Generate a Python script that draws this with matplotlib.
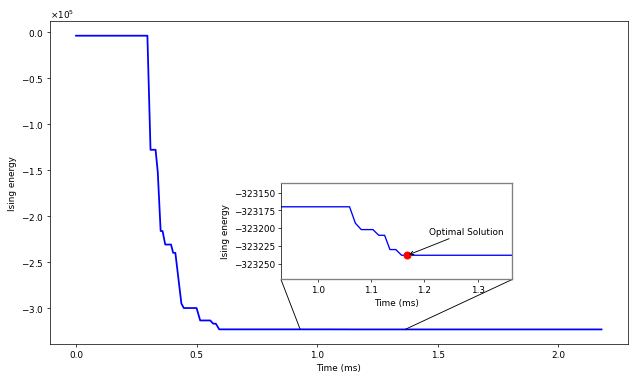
"""Ising energy vs time with a zoomed inset around the optimum."""

import matplotlib
import matplotlib.pyplot as plt
from mpl_toolkits.axes_grid1.inset_locator import mark_inset

matplotlib.use("Agg")

# energy trace (time in ms, energy in Ising units)
time_ms = [0.0, 0.296, 0.309, 0.33, 0.339, 0.351, 0.359, 0.37, 0.394, 0.403,
           0.412, 0.437, 0.447, 0.50, 0.515, 0.557, 0.569, 0.58, 0.594,
           1.059, 1.07, 1.081, 1.103, 1.114, 1.125, 1.135, 1.146, 1.157, 2.18]
energy = [-4000, -4000, -128000, -128000, -152000, -216300, -216300, -231000,
          -231000, -240000, -240000, -295000, -300000, -300000, -313500,
          -313500, -317000, -317000, -323170,
          -323170, -323193, -323202, -323202, -323210, -323210, -323230,
          -323230, -323238, -323238]

opt_time = 1.168
opt_energy = -323238

inset_xlim = (0.93, 1.365)
inset_ylim = (-323272, -323136)
inset_yticks = [-323150, -323175, -323200, -323225, -323250]

fig, ax = plt.subplots(figsize=(10, 6), dpi=63.8)
fig.subplots_adjust(left=0.078, right=0.984, bottom=0.099, top=0.943)

ax.plot(time_ms, energy, color="blue", linewidth=2)
ax.set_xlabel("Time (ms)")
ax.set_ylabel("Ising energy")
ax.ticklabel_format(axis="y", style="sci", scilimits=(0, 0), useMathText=True)

axins = ax.inset_axes([0.4, 0.2, 0.4, 0.3])
axins.plot(time_ms, energy, color="blue", linewidth=1.5)
axins.plot(opt_time, opt_energy, "ro", markersize=8)
axins.set_xlim(*inset_xlim)
axins.set_ylim(*inset_ylim)
axins.set_yticks(inset_yticks)
axins.ticklabel_format(axis="y", style="plain", useOffset=False)
axins.set_xlabel("Time (ms)")
axins.set_ylabel("Ising energy")
for side in ("top", "right", "bottom"):
    axins.spines[side].set_color("0.5")
    axins.spines[side].set_linewidth(1.5)

axins.annotate("Optimal Solution", xy=(opt_time, opt_energy),
               xytext=(1.209, -323205), va="center",
               arrowprops=dict(arrowstyle="->", color="black", lw=1))

mark_inset(ax, axins, loc1=3, loc2=4, fc="none", ec="black", lw=1)

fig.savefig("out.png", dpi=63.8)
